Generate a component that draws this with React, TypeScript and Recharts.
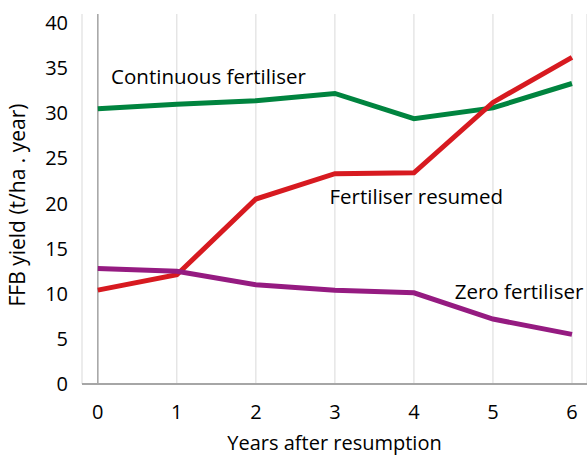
import React from 'react';
import {
  LineChart,
  Line,
  XAxis,
  YAxis,
  CartesianGrid,
  ReferenceLine,
  ReferenceDot,
} from 'recharts';

// Years after resumption
const years = [0, 1, 2, 3, 4, 5, 6];

// FFB yield (t/ha . year)
const continuousFertiliser = [30.5, 31.0, 31.4, 32.2, 29.4, 30.6, 33.3];
const fertiliserResumed = [10.4, 12.1, 20.5, 23.3, 23.4, 31.2, 36.2];
const zeroFertiliser = [12.8, 12.5, 11.0, 10.4, 10.1, 7.2, 5.5];

const yTicks = [0, 5, 10, 15, 20, 25, 30, 35, 40];

// series annotations: label text and its anchor in data units
const seriesLabels = ['Continuous fertiliser', 'Fertiliser resumed', 'Zero fertiliser'];
const labelX = [1.4, 4.03, 5.33];
const labelY = [34.0, 20.8, 10.2];

const data = years.map((year, i) => ({
  year,
  continuous: continuousFertiliser[i],
  resumed: fertiliserResumed[i],
  zero: zeroFertiliser[i],
}));

const FONT = '"Open Sans", sans-serif';

const YTitle = ({ viewBox }: any) => {
  const x = viewBox.x + 17;
  const y = viewBox.y + viewBox.height / 2 + 6;
  return (
    <text
      x={x}
      y={y}
      transform={`rotate(-90, ${x}, ${y})`}
      textAnchor="middle"
      dominantBaseline="central"
      fill="#000"
      fontSize={21}
      fontFamily={FONT}
    >
      FFB yield (t/ha . year)
    </text>
  );
};

export default function App() {
  return (
    <div style={{ position: 'absolute', left: 0, top: 0, background: '#fff' }}>
      <LineChart
        width={587}
        height={455}
        data={data}
        margin={{ top: 14, right: 0, left: 0, bottom: 0 }}
      >
        <CartesianGrid vertical horizontal={false} stroke="#d9d9d9" strokeWidth={1} />
        <XAxis
          dataKey="year"
          type="number"
          domain={[-0.2, 6.19]}
          ticks={years}
          allowDataOverflow
          axisLine={{ stroke: '#a6a6a6', strokeWidth: 2 }}
          tickLine={false}
          tickSize={0}
          tickMargin={21}
          height={71}
          tick={{ fill: '#000', fontSize: 20, fontFamily: FONT }}
          label={{
            value: 'Years after resumption',
            position: 'insideBottom',
            offset: 5,
            fill: '#000',
            fontSize: 20,
            fontFamily: FONT,
          }}
        />
        <YAxis
          type="number"
          domain={[0, 41]}
          ticks={yTicks}
          allowDataOverflow
          width={82}
          axisLine={false}
          tickLine={false}
          tickSize={0}
          tickMargin={14}
          tick={{ fill: '#000', fontSize: 20, fontFamily: FONT }}
          label={<YTitle />}
        />
        {/* y axis line sits at year 0 */}
        <ReferenceLine x={0} stroke="#a6a6a6" strokeWidth={1.5} />
        <Line
          type="linear"
          dataKey="continuous"
          stroke="#00843f"
          strokeWidth={5}
          dot={false}
          isAnimationActive={false}
        />
        <Line
          type="linear"
          dataKey="resumed"
          stroke="#d71a20"
          strokeWidth={5}
          dot={false}
          isAnimationActive={false}
        />
        <Line
          type="linear"
          dataKey="zero"
          stroke="#951b81"
          strokeWidth={5}
          dot={false}
          isAnimationActive={false}
        />
        {seriesLabels.map((text, i) => (
          <ReferenceDot
            key={text}
            x={labelX[i]}
            y={labelY[i]}
            r={0}
            fill="none"
            stroke="none"
            label={{
              value: text,
              position: 'center',
              fill: '#000',
              fontSize: 20.5,
              fontFamily: FONT,
            }}
          />
        ))}
      </LineChart>
    </div>
  );
}
